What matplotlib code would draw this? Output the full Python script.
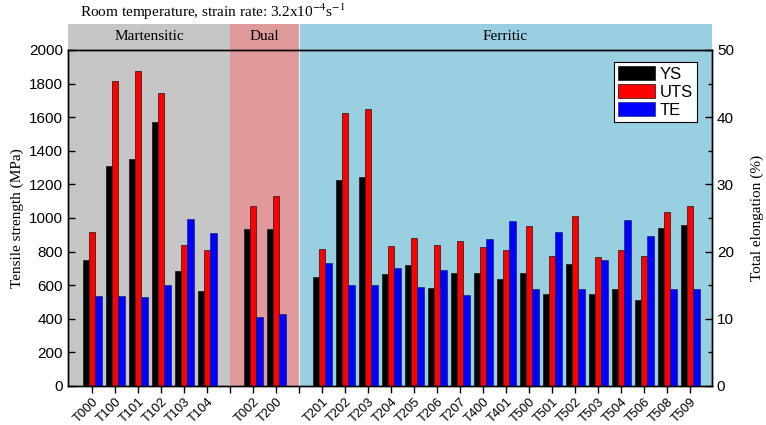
import matplotlib.pyplot as plt
import numpy as np
from matplotlib.ticker import MultipleLocator

# sample names, '' marks the empty slot between groups
labels = ['T000', 'T100', 'T101', 'T102', 'T103', 'T104', '',
          'T002', 'T200', '',
          'T201', 'T202', 'T203', 'T204', 'T205', 'T206', 'T207', 'T400',
          'T401', 'T500', 'T501', 'T502', 'T503', 'T504', 'T506', 'T508', 'T509']

ys = [749, 1309, 1350, 1573, 683, 564, None,
      937, 937, None,
      649, 1225, 1245, 667, 719, 582, 671, 673,
      636, 671, 550, 727, 550, 580, 510, 943, 957]
uts = [914, 1815, 1877, 1744, 838, 808, None,
       1072, 1132, None,
       816, 1625, 1646, 832, 880, 840, 864, 828,
       812, 953, 775, 1013, 769, 808, 773, 1037, 1072]
te = [13.4, 13.4, 13.3, 15.1, 24.9, 22.8, None,
      10.3, 10.7, None,
      18.3, 15.1, 15.0, 17.6, 14.8, 17.3, 13.6, 21.8,
      24.6, 14.5, 22.9, 14.5, 18.7, 24.7, 22.3, 14.5, 14.5]

regions = ['Martensitic', 'Dual', 'Ferritic']
region_bounds = [(-1.05, 6), (6, 9), (9, 26.95)]
region_colors = ['#c6c6c6', '#e09a9b', '#98d0e2']


def main():
    plt.rcParams['mathtext.fontset'] = 'stix'
    serif = 'Liberation Serif'
    sans = 'Liberation Sans'

    fig = plt.figure(figsize=(7.66, 4.25), dpi=100)
    ax = fig.add_axes([0.0888, 0.0918, 0.8407, 0.7906])
    ax2 = ax.twinx()

    x = np.arange(len(labels))
    w = 0.275
    idx = [i for i, l in enumerate(labels) if l]
    ys_v = [ys[i] for i in idx]
    uts_v = [uts[i] for i in idx]
    te_v = [te[i] for i in idx]
    xi = x[idx]

    ax.set_xlim(-1.05, 26.95)
    ax.set_ylim(0, 2000)
    ax2.set_ylim(0, 50)

    # shaded regions, reaching above the frame for the header band
    for (a, b), c, name in zip(region_bounds, region_colors, regions):
        ax.axvspan(a, b, ymin=0, ymax=1.077, color=c, clip_on=False, zorder=0, lw=0)
        ax.text((a + b) / 2, 1.04, name, transform=ax.get_xaxis_transform(),
                ha='center', va='center', family=serif, fontsize=11)
    ax.axvline(9, ymin=0, ymax=1.077, color='#f0f0f0', lw=0.8, clip_on=False, zorder=0.5)

    b1 = ax.bar(xi - w, ys_v, w, color='black', edgecolor='#222222', lw=0.6, zorder=2, label='YS')
    b2 = ax.bar(xi, uts_v, w, color='#ff0000', edgecolor='#402020', lw=0.6, zorder=2, label='UTS')
    b3 = ax2.bar(xi + w, te_v, w, color='#0000ff', edgecolor='#101060', lw=0.4, zorder=2, label='TE')

    ax.set_xticks(x)
    ax.set_xticklabels(labels, rotation=45, ha='right', rotation_mode='anchor',
                       family=sans, fontsize=9.3)
    ax.tick_params(axis='x', direction='out', length=5, width=1, pad=2)

    ax.yaxis.set_major_locator(MultipleLocator(200))
    ax.tick_params(axis='y', direction='in', length=5, width=1)
    for t in ax.get_yticklabels():
        t.set_family(sans)
        t.set_fontsize(11)
    ax2.yaxis.set_major_locator(MultipleLocator(10))
    ax2.yaxis.set_minor_locator(MultipleLocator(5))
    ax2.tick_params(axis='y', which='major', direction='in', length=5, width=1)
    ax2.tick_params(axis='y', which='minor', direction='in', length=3, width=1)
    for t in ax2.get_yticklabels():
        t.set_family(sans)
        t.set_fontsize(11)

    ax.set_ylabel('Tensile strength (MPa)', family=serif, fontsize=11, labelpad=4)
    ax2.set_ylabel('Total elongation (%)', family=serif, fontsize=11, labelpad=12)

    ax.set_zorder(1)
    ax.patch.set_visible(False)
    ax2.set_zorder(2)
    ax2.patch.set_visible(False)

    for s in ax.spines.values():
        s.set_linewidth(1)
    for s in ax2.spines.values():
        s.set_linewidth(1)

    leg = ax2.legend([b1, b2, b3], ['YS', 'UTS', 'TE'], loc='upper right',
                     bbox_to_anchor=(0.977, 0.965), prop={'family': sans, 'size': 12},
                     fancybox=False, edgecolor='black', framealpha=1,
                     handlelength=2.2, handleheight=0.9, borderpad=0.25,
                     labelspacing=0.15, handletextpad=0.3, borderaxespad=0)
    leg.get_frame().set_linewidth(0.8)

    fig.text(0.104, 0.972, r'Room temperature, strain rate: 3.2x10$^{-4}$s$^{-1}$',
             family=serif, fontsize=11, ha='left', va='center')

    plt.savefig('out.png', dpi=100)


if __name__ == "__main__":
    main()
